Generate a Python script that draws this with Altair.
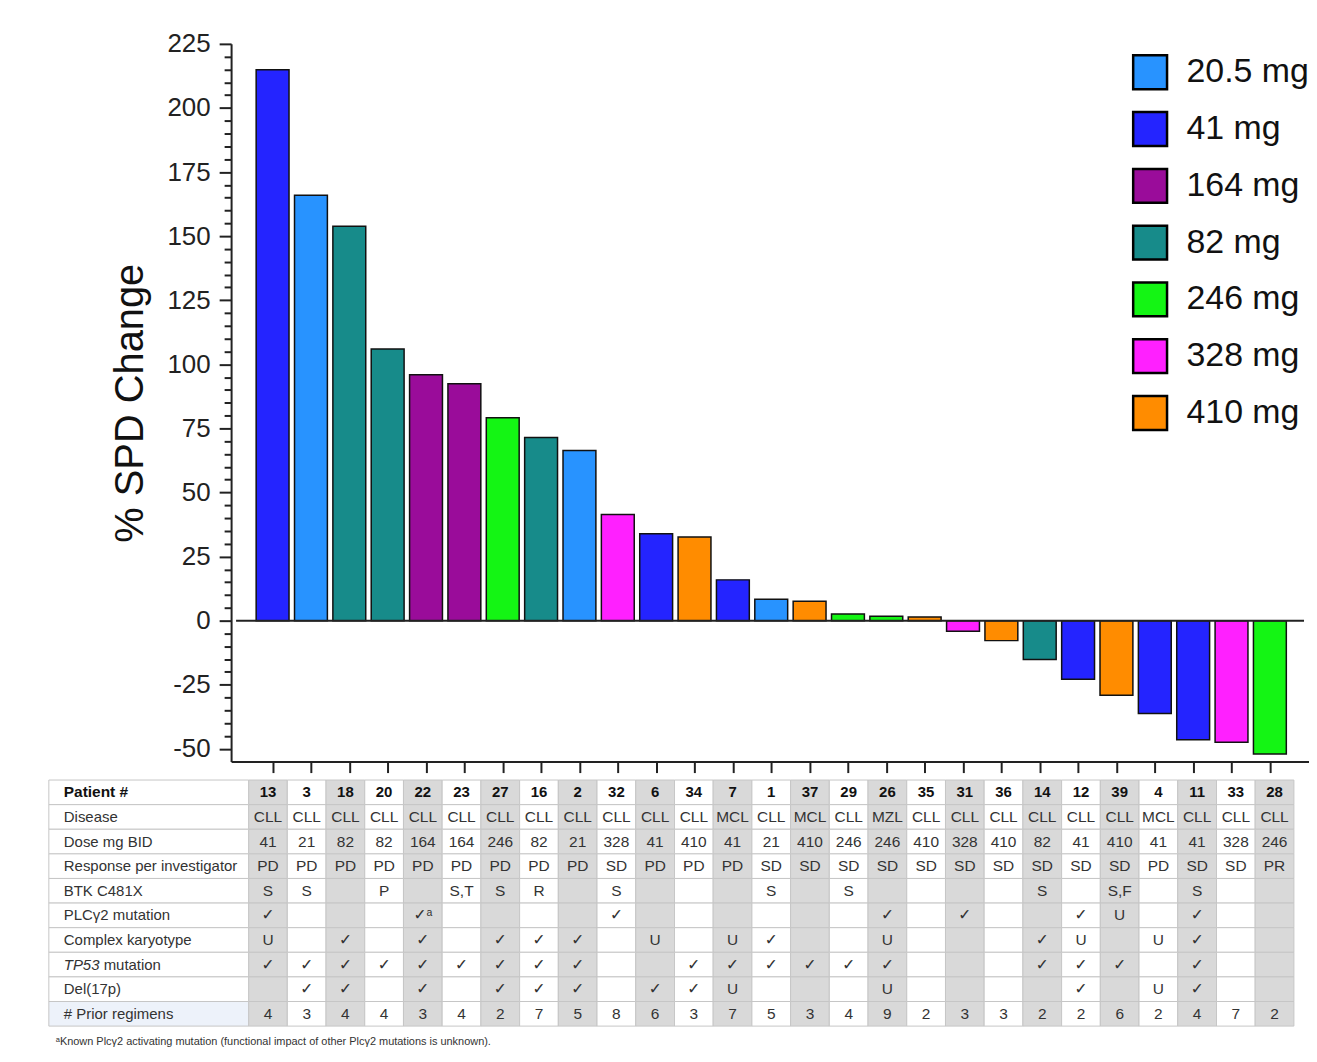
import altair as alt
import pandas as pd

# ---------------- data ----------------
patients = [13, 3, 18, 20, 22, 23, 27, 16, 2, 32, 6, 34, 7, 1, 37, 29, 26, 35, 31, 36, 14, 12, 39, 4, 11, 33, 28]
spd_change = [214.9, 165.9, 153.9, 106.0, 95.9, 92.4, 79.1, 71.4, 66.4, 41.4, 33.9, 32.6, 15.9, 8.3, 7.6,
              2.6, 1.7, 1.4, -4.1, -7.8, -15.2, -22.9, -29.1, -36.2, -46.5, -47.4, -52.0]
disease = ["CLL", "CLL", "CLL", "CLL", "CLL", "CLL", "CLL", "CLL", "CLL", "CLL", "CLL", "CLL", "MCL", "CLL",
           "MCL", "CLL", "MZL", "CLL", "CLL", "CLL", "CLL", "CLL", "CLL", "MCL", "CLL", "CLL", "CLL"]
dose_bid = ["41", "21", "82", "82", "164", "164", "246", "82", "21", "328", "41", "410", "41", "21", "410",
            "246", "246", "410", "328", "410", "82", "41", "410", "41", "41", "328", "246"]
response = ["PD", "PD", "PD", "PD", "PD", "PD", "PD", "PD", "PD", "SD", "PD", "PD", "PD", "SD", "SD",
            "SD", "SD", "SD", "SD", "SD", "SD", "SD", "SD", "PD", "SD", "SD", "PR"]
btk = ["S", "S", "", "P", "", "S,T", "S", "R", "", "S", "", "", "", "S", "", "S", "", "", "", "", "S", "",
       "S,F", "", "S", "", ""]
plcg2 = ["✓", "", "", "", "✓ᵃ", "", "", "", "", "✓", "", "", "", "", "", "", "✓", "", "✓", "", "", "✓",
         "U", "", "✓", "", ""]
complex_k = ["U", "", "✓", "", "✓", "", "✓", "✓", "✓", "", "U", "", "U", "✓", "", "", "U", "", "", "",
             "✓", "U", "", "U", "✓", "", ""]
tp53 = ["✓", "✓", "✓", "✓", "✓", "✓", "✓", "✓", "✓", "", "", "✓", "✓", "✓", "✓", "✓", "✓", "", "", "",
        "✓", "✓", "✓", "", "✓", "", ""]
del17p = ["", "✓", "✓", "", "✓", "", "✓", "✓", "✓", "", "✓", "✓", "U", "", "", "", "U", "", "", "", "",
          "✓", "", "U", "✓", "", ""]
prior = [4, 3, 4, 4, 3, 4, 2, 7, 5, 8, 6, 3, 7, 5, 3, 4, 9, 2, 3, 3, 2, 2, 6, 2, 4, 7, 2]

row_labels = ["Patient #", "Disease", "Dose mg BID", "Response per investigator", "BTK C481X",
              "PLCγ2 mutation", "Complex karyotype", "TP53 mutation", "Del(17p)", "# Prior regimens"]
footnote = "ᵃKnown Plcγ2 activating mutation (functional impact of other Plcγ2 mutations is unknown)."

dose_labels = ["20.5 mg", "41 mg", "164 mg", "82 mg", "246 mg", "328 mg", "410 mg"]
dose_colors = ["#2893FF", "#2424FF", "#9A0C9A", "#178B8A", "#14F514", "#FF20FF", "#FF8C00"]

# ---------------- layout constants ----------------
U = 38.86            # px per patient column
X_LEFT = -5.66       # left edge of table label column (in column units)
X_AXIS = -0.952      # position of the y axis
X_RIGHT = 26.89
W = round((X_RIGHT - X_LEFT) * U)
BAR_L = (X_AXIS - X_LEFT) * U
H = 986
BAR_BOTTOM = 720.5
FONT = "Liberation Sans"


def dose_name(d):
    return "20.5 mg" if d == "21" else f"{d} mg"


bars_df = pd.DataFrame({
    "idx": list(range(len(patients))),
    "patient": patients,
    "change": spd_change,
    "dose": [dose_name(d) for d in dose_bid],
})

xb_scale = alt.Scale(domain=[X_AXIS, X_RIGHT], range=[BAR_L, W], nice=False, zero=False)
yb_scale = alt.Scale(domain=[-55, 225], range=[BAR_BOTTOM, 0], nice=False, zero=False)

x_axis = alt.Axis(values=list(range(len(patients))), labels=False, title=None, grid=False,
                  tickSize=11, tickWidth=2, tickColor="#222", domainColor="#222", domainWidth=2,
                  offset=-(H - BAR_BOTTOM))
y_axis = alt.Axis(values=list(range(-50, 226, 5)),
                  labelExpr="datum.value % 25 === 0 ? '' + datum.value : ''",
                  tickSize={"condition": {"test": "datum.value % 25 === 0", "value": 12}, "value": 7},
                  tickWidth=2, tickColor="#222", domainColor="#222", domainWidth=2,
                  labelFontSize=26, labelColor="#222", labelPadding=9, labelFont=FONT,
                  title="% SPD Change", titleFontSize=40, titleFontWeight="normal", titleColor="#111",
                  titleFont=FONT, titlePadding=17, grid=False, offset=-BAR_L)

bars = alt.Chart(bars_df).mark_bar(size=33, stroke="#111", strokeWidth=1.5).encode(
    x=alt.X("idx:Q", scale=xb_scale, axis=x_axis),
    y=alt.Y("change:Q", scale=yb_scale, axis=y_axis),
    y2=alt.datum(0),
    fill=alt.Fill("dose:N", scale=alt.Scale(domain=dose_labels, range=dose_colors),
                  legend=alt.Legend(title=None, orient="none", legendX=1087, legendY=10,
                                    symbolType="square", symbolSize=1156, symbolStrokeColor="black",
                                    symbolStrokeWidth=2.5, symbolOpacity=1, labelFontSize=34,
                                    labelFont=FONT, labelColor="#111", labelOffset=18,
                                    rowPadding=12, padding=0)),
)

zero_df = pd.DataFrame({"idx": [X_AXIS], "idx2": [X_RIGHT], "change": [0]})
zero_line = alt.Chart(zero_df).mark_rule(color="#222", strokeWidth=2).encode(
    x=alt.X("idx:Q", scale=xb_scale, axis=x_axis),
    x2="idx2:Q",
    y=alt.Y("change:Q", scale=yb_scale, axis=y_axis),
)

bar_group = alt.layer(bars, zero_line)

# ---------------- table ----------------
table_rows = [[str(p) for p in patients], disease, dose_bid, response, btk, plcg2, complex_k, tp53,
              del17p, [str(p) for p in prior]]
cells = []
for r, vals in enumerate(table_rows):
    for i, v in enumerate(vals):
        cells.append({"row": r, "col": i, "text": v,
                      "fill": "#d9d9d9" if i % 2 == 0 else "#ffffff"})
cells_df = pd.DataFrame(cells)

label_df = pd.DataFrame({
    "row": list(range(len(row_labels))),
    "label": row_labels,
    "fill": ["#ffffff"] * (len(row_labels) - 1) + ["#edf2fa"],
})

tx = alt.Scale(domain=[X_LEFT, X_RIGHT], nice=False, zero=False)
ty = alt.Scale(domain=[0, 10], range=[739, 986], nice=False, zero=False)

cell_rects = alt.Chart(cells_df).transform_calculate(
    x0="datum.col - 0.5", x1="datum.col + 0.5", y0="datum.row", y1="datum.row + 1"
).mark_rect(stroke="#c6c6c6", strokeWidth=1).encode(
    x=alt.X("x0:Q", scale=tx, axis=None), x2="x1:Q",
    y=alt.Y("y0:Q", scale=ty, axis=None), y2="y1:Q",
    fill=alt.Fill("fill:N", scale=None),
)

label_rects = alt.Chart(label_df).transform_calculate(
    x0=f"{X_LEFT}", x1="-0.5", y0="datum.row", y1="datum.row + 1"
).mark_rect(stroke="#c6c6c6", strokeWidth=1).encode(
    x=alt.X("x0:Q", scale=tx, axis=None), x2="x1:Q",
    y=alt.Y("y0:Q", scale=ty, axis=None), y2="y1:Q",
    fill=alt.Fill("fill:N", scale=None),
)

LBL = 15
label_base = alt.Chart(label_df).transform_calculate(
    xl=f"{X_LEFT}", ym="datum.row + 0.5"
)
label_plain = label_base.transform_filter("datum.row != 0 && datum.row != 7").mark_text(
    align="left", baseline="middle", dx=15, fontSize=LBL, font=FONT, color="#333"
).encode(x=alt.X("xl:Q", scale=tx, axis=None), y=alt.Y("ym:Q", scale=ty, axis=None), text="label:N")
label_bold = label_base.transform_filter("datum.row == 0").mark_text(
    align="left", baseline="middle", dx=15, fontSize=15.5, font=FONT, fontWeight="bold", color="#111"
).encode(x=alt.X("xl:Q", scale=tx, axis=None), y=alt.Y("ym:Q", scale=ty, axis=None), text="label:N")
label_tp53 = label_base.transform_filter("datum.row == 7").transform_calculate(
    part="split(datum.label, ' ')[0]"
).mark_text(
    align="left", baseline="middle", dx=15, fontSize=LBL, font=FONT, fontStyle="italic", color="#333"
).encode(x=alt.X("xl:Q", scale=tx, axis=None), y=alt.Y("ym:Q", scale=ty, axis=None), text="part:N")
label_tp53b = label_base.transform_filter("datum.row == 7").transform_calculate(
    part="split(datum.label, ' ')[1]"
).mark_text(
    align="left", baseline="middle", dx=55, fontSize=LBL, font=FONT, color="#333"
).encode(x=alt.X("xl:Q", scale=tx, axis=None), y=alt.Y("ym:Q", scale=ty, axis=None), text="part:N")

cell_base = alt.Chart(cells_df).transform_calculate(ym="datum.row + 0.5")
cell_text = cell_base.transform_filter("datum.row != 0").mark_text(
    align="center", baseline="middle", fontSize=15.5, font="Liberation Sans, DejaVu Sans", color="#333"
).encode(x=alt.X("col:Q", scale=tx, axis=None), y=alt.Y("ym:Q", scale=ty, axis=None), text="text:N")
cell_bold = cell_base.transform_filter("datum.row == 0").mark_text(
    align="center", baseline="middle", fontSize=15, font=FONT, fontWeight="bold", color="#111"
).encode(x=alt.X("col:Q", scale=tx, axis=None), y=alt.Y("ym:Q", scale=ty, axis=None), text="text:N")

foot_df = pd.DataFrame({"text": [footnote]})
foot = alt.Chart(foot_df).transform_calculate(xl=f"{X_LEFT}", yf="10.66").mark_text(
    align="left", baseline="middle", dx=7, fontSize=11, font=FONT, color="#333"
).encode(x=alt.X("xl:Q", scale=tx, axis=None), y=alt.Y("yf:Q", scale=ty, axis=None), text="text:N")

table_group = alt.layer(cell_rects, label_rects, label_plain, label_bold, label_tp53, label_tp53b,
                        cell_text, cell_bold, foot)

chart = alt.layer(bar_group, table_group).resolve_scale(
    x="independent", y="independent"
).properties(
    width=W, height=H,
    padding={"left": 40, "top": 21, "right": 0, "bottom": 5},
    background="white",
).configure(font=FONT, view=alt.ViewConfig(stroke=None),
            legend=alt.LegendConfig(symbolStrokeColor="black"))

chart.save("out.html", embed_options={"renderer": "svg", "actions": False})
